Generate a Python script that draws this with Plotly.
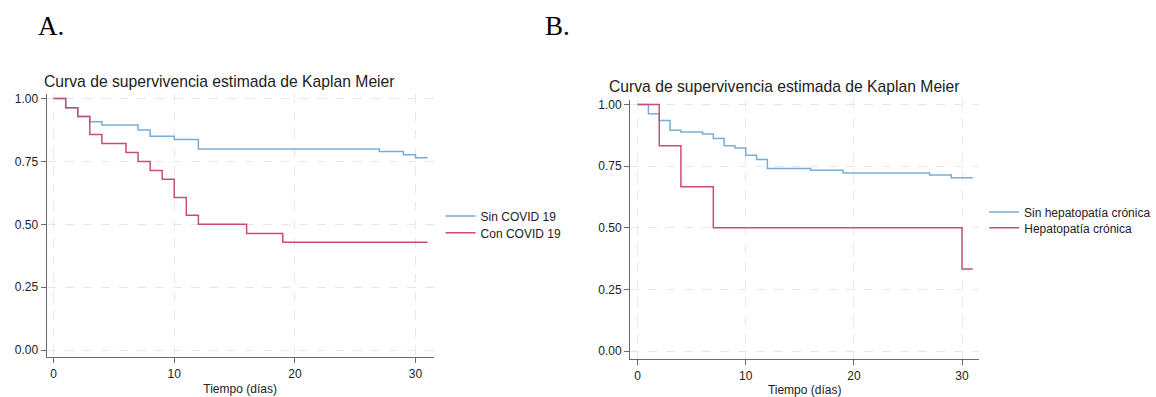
import plotly.graph_objects as go

# ---------------- data ----------------
title_text = "Curva de supervivencia estimada de Kaplan Meier"
x_title = "Tiempo (días)"
panel_labels = ["A.", "B."]

# Panel A
a_sin_name = "Sin COVID 19"
a_sin_t = [0, 1, 2, 3, 4, 7, 8, 10, 12, 27, 29, 30, 31]
a_sin_s = [1.0, 0.964, 0.929, 0.908, 0.895, 0.875, 0.850, 0.837, 0.800, 0.790, 0.777, 0.765, 0.765]

a_con_name = "Con COVID 19"
a_con_t = [0, 1, 2, 3, 4, 6, 7, 8, 9, 10, 11, 12, 16, 19, 31]
a_con_s = [1.0, 0.964, 0.929, 0.857, 0.821, 0.786, 0.750, 0.714, 0.679, 0.607, 0.536, 0.500, 0.464, 0.429, 0.429]

# Panel B
b_sin_name = "Sin hepatopatía crónica"
b_sin_t = [0, 1, 2, 3, 4, 6, 7, 8, 9, 10, 11, 12, 16, 19, 27, 29, 31]
b_sin_s = [1.0, 0.962, 0.935, 0.895, 0.888, 0.880, 0.862, 0.833, 0.824, 0.794, 0.777, 0.741, 0.733, 0.722, 0.714, 0.703, 0.703]

b_hep_name = "Hepatopatía crónica"
b_hep_t = [0, 2, 4, 7, 30, 31]
b_hep_s = [1.0, 0.833, 0.667, 0.500, 0.333, 0.333]

x_ticks = [0, 10, 20, 30]
y_ticks = [0.0, 0.25, 0.5, 0.75, 1.0]
y_ticklabels = ["0.00", "0.25", "0.50", "0.75", "1.00"]

# ---------------- styling ----------------
W, H = 1156, 397
BLUE = "#78add7"
RED = "#c84d7c"
GRID = "#e8e8e8"
AXIS = "#6a6a6a"
TXT = "#222222"
FONT = "Liberation Sans, Arial, sans-serif"

def px_x(p):
    return p / W

def px_y(p):
    return 1 - p / H

fig = go.Figure()

fig.add_trace(go.Scatter(x=a_sin_t, y=a_sin_s, mode="lines", line=dict(shape="hv", color=BLUE, width=1.5),
                         name=a_sin_name, xaxis="x", yaxis="y", legend="legend"))
fig.add_trace(go.Scatter(x=a_con_t, y=a_con_s, mode="lines", line=dict(shape="hv", color=RED, width=1.5),
                         name=a_con_name, xaxis="x", yaxis="y", legend="legend2"))
fig.add_trace(go.Scatter(x=b_sin_t, y=b_sin_s, mode="lines", line=dict(shape="hv", color=BLUE, width=1.5),
                         name=b_sin_name, xaxis="x2", yaxis="y2", legend="legend3"))
fig.add_trace(go.Scatter(x=b_hep_t, y=b_hep_s, mode="lines", line=dict(shape="hv", color=RED, width=1.5),
                         name=b_hep_name, xaxis="x2", yaxis="y2", legend="legend4"))

def xaxis(domain, rng, anchor):
    return dict(domain=domain, range=rng, anchor=anchor, tickvals=x_ticks,
                showline=True, linecolor=AXIS, linewidth=1, ticks="outside", ticklen=5,
                tickcolor=AXIS, tickfont=dict(size=12, color=TXT, family=FONT),
                showgrid=True, gridcolor=GRID, griddash="dash", gridwidth=1, zeroline=False,
                title=dict(text=x_title, font=dict(size=12, color=TXT, family=FONT), standoff=4))

def yaxis(domain, rng, anchor):
    return dict(domain=domain, range=rng, anchor=anchor, tickvals=y_ticks, ticktext=y_ticklabels,
                showline=True, linecolor=AXIS, linewidth=1, ticks="outside", ticklen=5,
                tickcolor=AXIS, tickfont=dict(size=12, color=TXT, family=FONT),
                showgrid=True, gridcolor=GRID, griddash="dash", gridwidth=1, zeroline=False)

def legend_at(xp, yp):
    return dict(x=px_x(xp), y=px_y(yp), xanchor="left", yanchor="middle",
                font=dict(size=12, color=TXT, family=FONT), itemwidth=30,
                bgcolor="rgba(0,0,0,0)", tracegroupgap=0)

# Panel geometry (pixels)
a_left, a_right, a_top, a_bot = 47, 437, 92, 357
b_left, b_right, b_top, b_bot = 635, 987, 98, 359

fig.update_layout(
    width=W, height=H,
    margin=dict(l=0, r=0, t=0, b=0),
    paper_bgcolor="white", plot_bgcolor="white",
    font=dict(family=FONT, color=TXT),
    xaxis=xaxis([px_x(a_left), px_x(a_right)], [-0.58, 31.5], "y"),
    yaxis=yaxis([px_y(a_bot), px_y(a_top)], [-0.028, 1.02], "x"),
    xaxis2=xaxis([px_x(b_left), px_x(b_right)], [-0.7, 31.6], "y2"),
    yaxis2=yaxis([px_y(b_bot), px_y(b_top)], [-0.032, 1.02], "x2"),
    legend=legend_at(444, 215),
    legend2=legend_at(444, 232),
    legend3=legend_at(992, 211),
    legend4=legend_at(992, 227),
    showlegend=True,
)

annotations = [
    dict(text=title_text, x=px_x(42), y=px_y(80), xref="paper", yref="paper",
         xanchor="left", yanchor="middle", showarrow=False,
         font=dict(size=15.7, color=TXT, family=FONT)),
    dict(text=title_text, x=px_x(612), y=px_y(85), xref="paper", yref="paper",
         xanchor="left", yanchor="middle", showarrow=False,
         font=dict(size=15.7, color=TXT, family=FONT)),
    dict(text=panel_labels[0], x=px_x(36), y=px_y(24), xref="paper", yref="paper",
         xanchor="left", yanchor="middle", showarrow=False,
         font=dict(size=27, color="black", family="Liberation Serif, Times New Roman, serif")),
    dict(text=panel_labels[1], x=px_x(547), y=px_y(24), xref="paper", yref="paper",
         xanchor="left", yanchor="middle", showarrow=False,
         font=dict(size=27, color="black", family="Liberation Serif, Times New Roman, serif")),
]
fig.update_layout(annotations=annotations)

fig.write_html("out.html")
